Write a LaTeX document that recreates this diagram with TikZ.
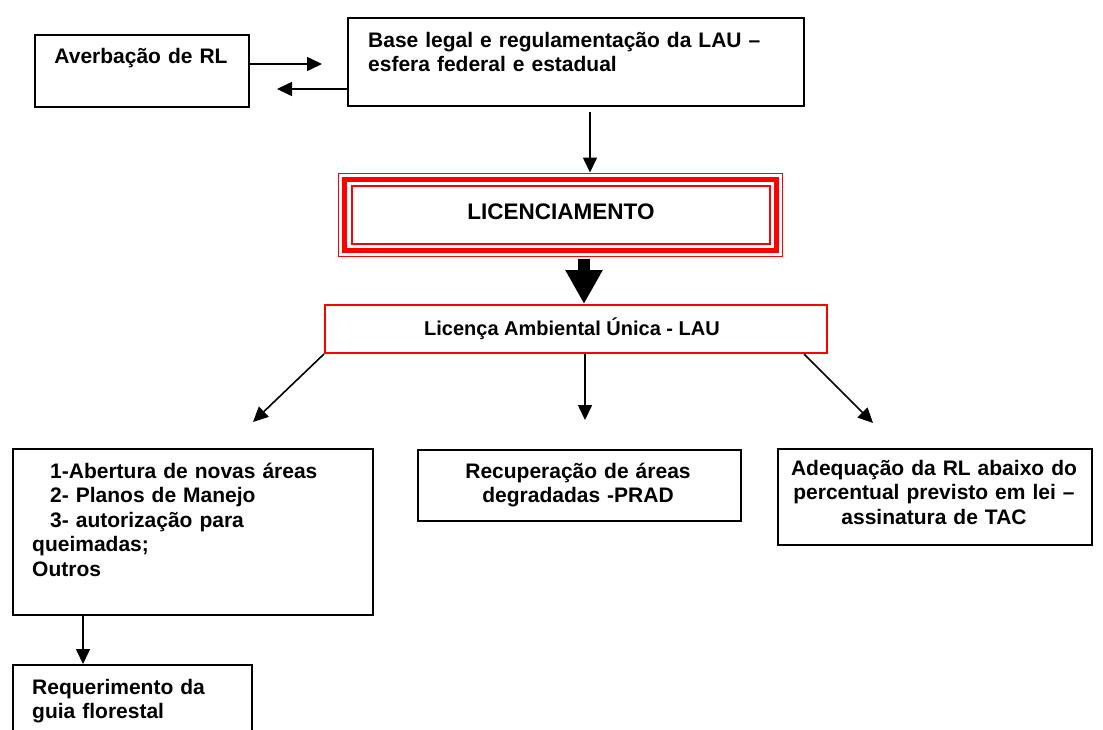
\documentclass[tikz,border=0pt]{standalone}
\usepackage{fontspec}
\setmainfont{Liberation Sans}
\usetikzlibrary{arrows.meta,calc}
\begin{document}
\begin{tikzpicture}[x=1pt,y=-1pt,
  box/.style={draw=black, line width=1.8pt, inner sep=0pt, anchor=north west},
  redbox/.style={draw=red, line width=2pt, inner sep=0pt, anchor=north west},
  txt/.style={inner sep=0pt, font=\bfseries\fontsize{21}{24.5}\selectfont},
  arr/.style={line width=1.6pt, -{Triangle[length=15pt,width=14pt]}},
]
\useasboundingbox (0,0) rectangle (1103,729);
% boxes
\node[box, minimum width=214pt, minimum height=72pt] (averb) at (34,34) {};
\node[box, minimum width=456pt, minimum height=88pt] (base) at (347,17) {};
\node[draw=red, line width=1.2pt, inner sep=0pt, anchor=north west, minimum width=444pt, minimum height=83.5pt] (lic) at (338,172.5) {};
\draw[red, line width=5pt] ($(lic.north west)+(6.5,6.5)$) rectangle ($(lic.south east)+(-6.5,-6.5)$);
\draw[red, line width=2pt] ($(lic.north west)+(13.5,13.5)$) rectangle ($(lic.south east)+(-13.5,-13.5)$);
\node[redbox, minimum width=502pt, minimum height=48pt] (lau) at (324,304) {};
\node[box, minimum width=360pt, minimum height=166pt] (left) at (12,448) {};
\node[box, minimum width=323pt, minimum height=71pt] (mid) at (417,449) {};
\node[box, minimum width=314pt, minimum height=96pt] (right) at (777,448) {};
\node[box, minimum width=239pt, minimum height=75pt] (req) at (12,664) {};
% texts
\node[txt, anchor=base, text width=214pt, align=center] (averbt) at (141,63) {Averbação de RL};
\node[txt, anchor=base west, text width=430pt, align=left] (baset) at (368,47) {Base legal e regulamentação da LAU –\\esfera federal e estadual};
\node[inner sep=0pt, font=\bfseries\fontsize{22.5}{26}\selectfont, anchor=base] (lict) at (561,219) {LICENCIAMENTO};
\node[inner sep=0pt, font=\bfseries\fontsize{20}{24}\selectfont, anchor=base] (laut) at (572,335) {Licença Ambiental Única - LAU};
\node[txt, anchor=base west, text width=330pt, align=left] (leftt) at (32,478) {\hspace*{18pt}1-Abertura de novas áreas\\\hspace*{18pt}2- Planos de Manejo\\\hspace*{18pt}3- autorização para\\queimadas;\\Outros};
\node[txt, anchor=base, text width=320pt, align=center] (midt) at (578,478) {Recuperação de áreas\\degradadas -PRAD};
\node[txt, anchor=base, text width=310pt, align=center] (rightt) at (934,475) {Adequação da RL abaixo do\\percentual previsto em lei –\\assinatura de TAC};
\node[txt, anchor=base west, text width=215pt, align=left] (reqt) at (32,694) {Requerimento da\\guia florestal};
% connectors
\coordinate (r1) at (322,64);
\draw[arr] (r1 -| averb.east) -- (r1);
\coordinate (r2) at (277,89);
\draw[arr] (r2 -| base.west) -- (r2);
\coordinate (bl) at (590,112);
\draw[arr] (bl) -- (bl |- lic.north);
\coordinate (bigS) at (584,259);
\draw[line width=12pt, -{Triangle[length=34pt,width=35pt]}] (bigS) -- (bigS |- lau.north);
\coordinate (t1) at (253,422);
\draw[arr] (lau.south west) -- (t1);
\coordinate (t2) at (585,420);
\draw[arr] (t2 |- lau.south) -- (t2);
\coordinate (s3) at ($(lau.south east)+(-24,0)$);
\coordinate (t3) at (873,423);
\draw[arr] (s3) -- (t3);
\coordinate (q) at (83,0);
\draw[arr] (q |- left.south) -- (q |- req.north);
\end{tikzpicture}
\end{document}
